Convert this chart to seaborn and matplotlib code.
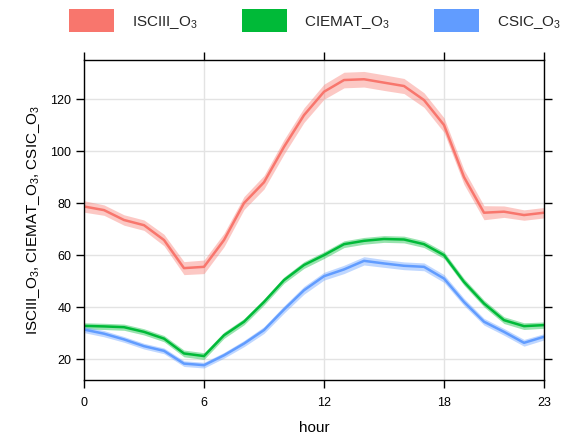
import numpy as np
import pandas as pd
import matplotlib
matplotlib.use("Agg")
import matplotlib.pyplot as plt
from matplotlib.patches import Patch
import seaborn as sns

HOURS = list(range(24))

ISCIII_O3 = [78.7, 77.3, 73.5, 71.5, 65.8, 55.0, 55.5, 65.8, 80.0, 88.0, 101.6, 113.8,
             122.8, 127.3, 127.6, 126.3, 125.0, 119.6, 110.0, 90.0, 76.3, 76.7, 75.4, 76.3]
CIEMAT_O3 = [32.8, 32.6, 32.3, 30.5, 27.9, 22.2, 21.2, 29.2, 34.4, 42.0, 50.4, 56.2,
             60.0, 64.2, 65.5, 66.2, 66.0, 64.2, 60.0, 49.7, 41.4, 35.0, 32.7, 33.1]
CSIC_O3 = [31.4, 29.8, 27.6, 25.0, 23.2, 18.3, 17.7, 21.5, 26.0, 31.2, 39.1, 46.5,
           51.9, 54.5, 57.8, 56.8, 55.9, 55.5, 51.0, 42.0, 34.4, 30.5, 26.3, 28.6]

# half width of the confidence band
ISCIII_CI = [2.2, 2.0, 2.0, 2.0, 2.2, 2.5, 2.6, 2.6, 2.5, 2.6, 2.8, 2.8,
             2.9, 3.0, 3.0, 3.0, 2.9, 2.8, 2.8, 2.8, 2.7, 2.2, 2.0, 2.0]
CIEMAT_CI = [1.2, 1.2, 1.2, 1.2, 1.2, 1.3, 1.3, 1.2, 1.2, 1.2, 1.2, 1.3,
             1.3, 1.3, 1.3, 1.3, 1.3, 1.3, 1.3, 1.3, 1.3, 1.3, 1.3, 1.2]
CSIC_CI = [1.2, 1.2, 1.1, 1.1, 1.1, 1.1, 1.1, 1.1, 1.2, 1.3, 1.4, 1.5,
           1.5, 1.6, 1.6, 1.5, 1.5, 1.5, 1.5, 1.4, 1.3, 1.3, 1.3, 1.2]

SITES = ["ISCIII_O3", "CIEMAT_O3", "CSIC_O3"]
LABELS = ["ISCIII_O$_3$", "CIEMAT_O$_3$", "CSIC_O$_3$"]
COLORS = ["#F8766D", "#00BA38", "#619CFF"]
X_TICKS = [0, 6, 12, 18, 23]
Y_TICKS = [20, 40, 60, 80, 100, 120]

sns.set_theme(style="white")
plt.rcParams["font.family"] = ["Liberation Sans", "DejaVu Sans"]
plt.rcParams["mathtext.fontset"] = "custom"
plt.rcParams["mathtext.rm"] = "Liberation Sans"
plt.rcParams["mathtext.it"] = "Liberation Sans:italic"

df = pd.DataFrame({
    "hour": HOURS * 3,
    "value": ISCIII_O3 + CIEMAT_O3 + CSIC_O3,
    "ci": ISCIII_CI + CIEMAT_CI + CSIC_CI,
    "site": [s for s in SITES for _ in HOURS],
})

fig = plt.figure(figsize=(5.78, 4.40), dpi=100)
ax = fig.add_axes([84 / 578, 1 - 380 / 440, 460 / 578, 320 / 440])

# confidence ribbons first, lines on top
for site, color in zip(SITES, COLORS):
    d = df[df["site"] == site]
    ax.fill_between(d["hour"], d["value"] - d["ci"], d["value"] + d["ci"],
                    color=color, alpha=0.4, lw=0)

sns.lineplot(data=df, x="hour", y="value", hue="site", palette=COLORS,
             hue_order=SITES, lw=1.8, legend=False, ax=ax)

ax.set_xlim(0, 23)
ax.set_ylim(12, 135)
ax.set_xticks(X_TICKS)
ax.set_yticks(Y_TICKS)
ax.grid(True, color="#E3E3E3", lw=1)
ax.set_axisbelow(True)
for sp in ax.spines.values():
    sp.set_color("black")
    sp.set_linewidth(1)
ax.tick_params(axis="both", which="both", direction="out", length=6, width=1,
               color="black", labelsize=9, labelcolor="black",
               top=True, right=True, bottom=True, left=True,
               labeltop=False, labelright=False)
ax.tick_params(axis="x", pad=6)
ax.tick_params(axis="y", pad=3)
ax.set_xlabel("hour", fontsize=11, color="black", labelpad=9)
ax.set_ylabel("ISCIII_O$_3$, CIEMAT_O$_3$, CSIC_O$_3$", fontsize=11,
              color="black", labelpad=6)

handles = [Patch(facecolor=c, edgecolor="none") for c in COLORS]
fig.legend(handles, LABELS, loc="upper center", bbox_to_anchor=(0.545, 1.01),
           ncol=3, frameon=False, fontsize=11, handlelength=2.95,
           handleheight=1.9, handletextpad=1.15, columnspacing=2.9)

fig.savefig("out.png", dpi=100)
plt.close(fig)
